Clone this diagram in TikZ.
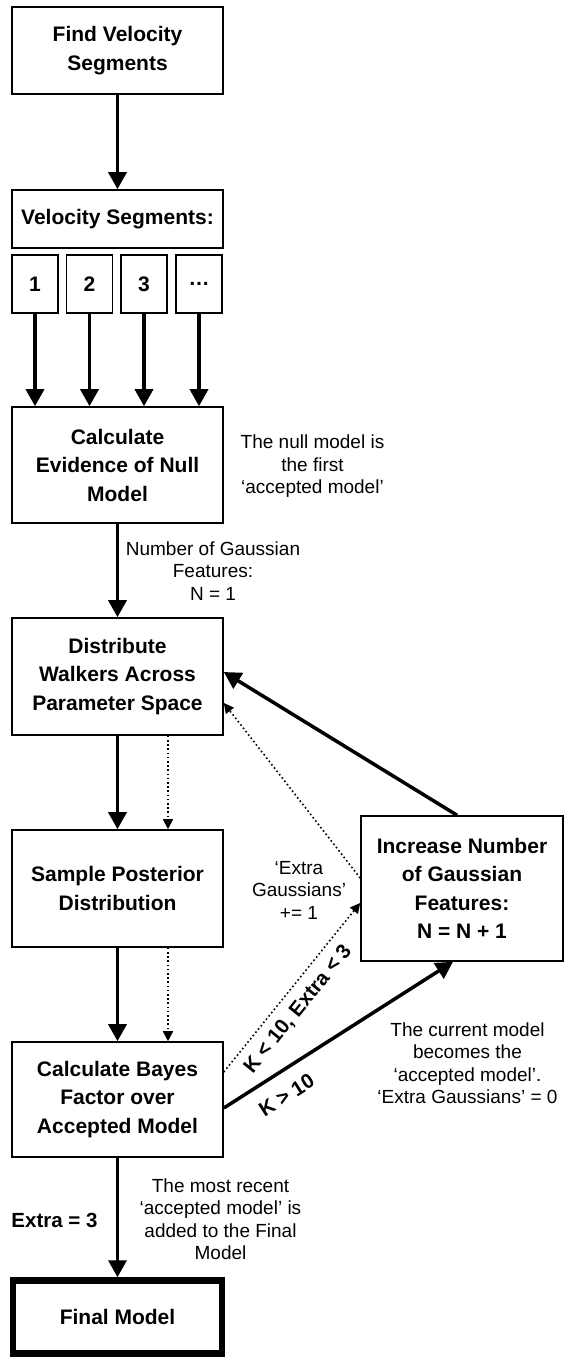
\documentclass[tikz,border=0pt]{standalone}
\usepackage{fontspec}
\setmainfont{Liberation Sans}
\usetikzlibrary{positioning,arrows.meta}

\begin{document}
\begin{tikzpicture}[
    x=1pt, y=-1pt,
    box/.style={draw, line width=1.6pt, minimum width=211pt, align=center, inner sep=0pt,
        font=\bfseries\fontsize{21}{28.5}\selectfont},
    seg box/.style={box, minimum width=46pt, minimum height=58pt},
    final box/.style={box, line width=6.5pt, minimum width=209pt, minimum height=73pt},
    note/.style={align=center, inner sep=0pt, font=\fontsize{19}{22.5}\selectfont},
    cond/.style={inner sep=0pt, font=\bfseries\fontsize{20.5}{26}\selectfont},
    flow/.style={draw, line width=3.5pt, -{Triangle[width=18pt,length=17pt]}},
    retry/.style={draw, line width=1.6pt, dash pattern=on 1.6pt off 2.6pt,
        -{Triangle[width=10pt,length=10pt]}}
]
    \useasboundingbox (0,0) rectangle (572,1358);

    % left column
    \node[box, minimum height=87pt] (find) at (117.5,50.5) {Find Velocity\\Segments};
    \node[box, minimum height=58pt] (segs) at (117.5,219) {Velocity Segments:};
    \foreach \i/\x/\t in {1/35/1, 2/89.5/2, 3/144/3, 4/199/\ldots} {
        \node[seg box] (seg-\i) at (\x,284) {\t};
    }
    \node[box, minimum height=116pt] (evid) at (117.5,465) {Calculate\\Evidence of Null\\Model};
    \node[box, minimum height=117pt] (dist) at (117.5,676.5) {Distribute\\Walkers Across\\Parameter Space};
    \node[box, minimum height=117pt] (samp) at (117.5,888.5) {Sample Posterior\\Distribution};
    \node[box, minimum height=115pt] (bayes) at (117.5,1099.5) {Calculate Bayes\\Factor over\\Accepted Model};
    \node[final box] (final) at (117.5,1317) {Final Model};

    % right column
    \node[box, minimum width=202pt, minimum height=145pt] (inc) at (462,888.5)
        {Increase Number\\of Gaussian\\Features:\\N = N + 1};

    % notes
    \node[note] (null note) at (312.5,466.5) {The null model is\\the first\\‘accepted model’};
    \node[note] (n note) at (213,571) {Number of Gaussian\\Features:\\N = 1};
    \node[note] (extra note) at (299,890) {‘Extra\\Gaussians’\\+= 1};
    \node[note] (current note) at (467.5,1063) {The current model\\becomes the\\‘accepted model’.\\‘Extra Gaussians’ = 0};
    \node[note] (recent note) at (220.5,1219) {The most recent\\‘accepted model’ is\\added to the Final\\Model};
    \node[cond] (stop) at (54.5,1220) {Extra = 3};

    % connectors
    \draw[flow] (find) -- (segs);
    \foreach \i in {1,...,4} {
        \draw[flow] (seg-\i.south) -- (seg-\i.south |- evid.north);
    }
    \draw[flow] (evid) -- (dist);
    \draw[flow] (dist) -- (samp);
    \draw[flow] (samp) -- (bayes);
    \draw[flow] (bayes) -- (final);
    \draw[retry] ([xshift=50.5pt]dist.south) -- ([xshift=50.5pt]samp.north);
    \draw[retry] ([xshift=50.5pt]samp.south) -- ([xshift=50.5pt]bayes.north);

    \draw[flow] ([yshift=-8.5pt]bayes.east) -- node[cond, sloped, below=14pt, pos=0.22] {K > 10}
        ([xshift=-9pt]inc.south);
    \draw[retry] ([yshift=27.5pt]bayes.east) -- node[cond, sloped, below=9pt, pos=0.44] {K < 10, Extra < 3}
        ([yshift=-14.5pt]inc.west);
    \draw[flow] ([xshift=-5pt]inc.north) -- ([yshift=4.5pt]dist.east);
    \draw[retry] ([yshift=10.5pt]inc.west) -- ([yshift=-26.5pt]dist.east);

\end{tikzpicture}
\end{document}
